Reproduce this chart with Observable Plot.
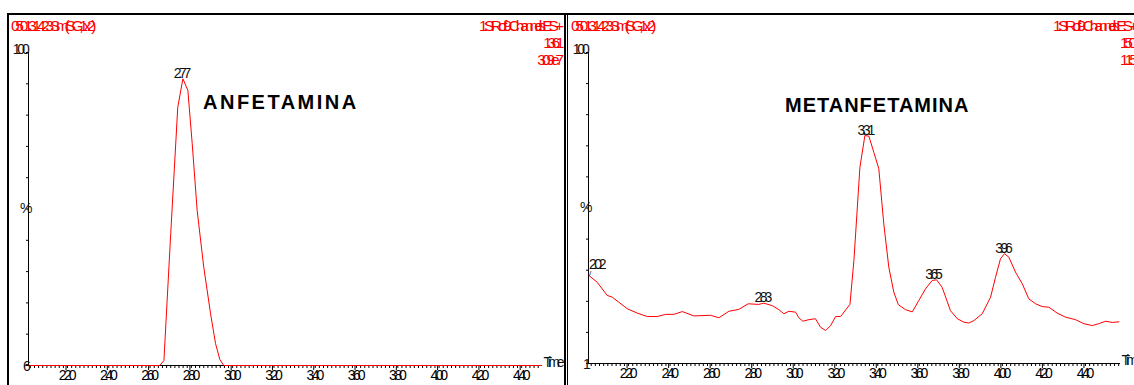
<!DOCTYPE html>
<html>
<head>
<meta charset="utf-8">
<script src="https://cdn.jsdelivr.net/npm/d3@7"></script>
<script src="https://cdn.jsdelivr.net/npm/@observablehq/plot@0.6"></script>
<style>
html, body { margin:0; padding:0; background:#fff; }
body { width:1134px; height:385px; overflow:hidden; position:relative; font-family:"Liberation Sans", Arial, sans-serif; }
.panel { position:absolute; top:0; }
.panel svg text { letter-spacing:-3.2px; }
.panel svg text.pct { letter-spacing:0; }
.panel svg text.ylab { letter-spacing:-4.2px; }
.panel svg text.tlab { letter-spacing:-3.6px; }
.hdr { position:absolute; color:#ff0000; font-size:15.5px; line-height:15.5px; letter-spacing:-4.3px; white-space:nowrap; }
.ttl { position:absolute; color:#000; font-weight:bold; font-size:20px; line-height:20px; white-space:nowrap; }
.ln { position:absolute; background:#000; }
</style>
</head>
<body>
<div id="p1" class="panel" style="left:0px;"></div>
<div id="p2" class="panel" style="left:568px;"></div>

<div class="hdr" style="left:11px; top:18px;">050131423 Sm (SG, 1x2)</div>
<div class="hdr" style="right:574px; top:18px; text-align:right; letter-spacing:-4px;">1: SIR of 9 Channels ES+</div>
<div class="hdr" style="right:574px; top:35px; text-align:right; letter-spacing:-4.4px;">136.1</div>
<div class="hdr" style="right:574px; top:52px; text-align:right; letter-spacing:-4.1px;">3.09e7</div>

<div class="hdr" style="left:571px; top:18px;">050131423 Sm (SG, 1x2)</div>
<div class="hdr" style="left:1053px; top:18px; letter-spacing:-4px;">1: SIR of 9 Channels ES+</div>
<div class="hdr" style="left:1120px; top:35px; letter-spacing:-4.4px;">150.1</div>
<div class="hdr" style="left:1120px; top:52px; letter-spacing:-4.1px;">1.15e7</div>

<div class="ttl" style="left:203px; top:92px; letter-spacing:2.5px;">ANFETAMINA</div>
<div class="ttl" style="left:785px; top:95px; letter-spacing:1px;">METANFETAMINA</div>

<div class="ln" style="left:7px; top:13px; width:1127px; height:2px;"></div>
<div class="ln" style="left:7px; top:13px; width:2px; height:372px;"></div>
<div class="ln" style="left:564px; top:13px; width:2px; height:372px;"></div>
<div class="ln" style="left:567px; top:13px; width:1px; height:372px;"></div>

<script>
// ---- data ----
const xTickValues = [2.2, 2.4, 2.6, 2.8, 3.0, 3.2, 3.4, 3.6, 3.8, 4.0, 4.2, 4.4];
const xTickLabels = ["2.20", "2.40", "2.60", "2.80", "3.00", "3.20", "3.40", "3.60", "3.80", "4.00", "4.20", "4.40"];

// Anfetamina (m/z 136.1)
const anfTime  = [2.011, 2.647, 2.667, 2.700, 2.734, 2.759, 2.783, 2.804, 2.828, 2.860, 2.893, 2.917, 2.938, 2.957, 4.496];
const anfValue = [0,     0,     1.6,   42.2,  82.5,  91.6,  87.9,  70.9,  49.5,  31.4,  16.5,  7.0,   1.9,   0,     0];
const anfPeakTime   = [2.759];
const anfPeakValue  = [91.6];
const anfPeakLabels = ["2.77"];
const anfYLabels = ["100", "6"];

// Metanfetamina (m/z 150.1)
const metTime = [2.009, 2.049, 2.097, 2.122, 2.153, 2.194, 2.242, 2.290, 2.338, 2.378, 2.418, 2.459, 2.514, 2.595, 2.635, 2.683,
  2.731, 2.776, 2.827, 2.851, 2.892, 2.924, 2.948, 2.972, 3.004, 3.020, 3.039, 3.068, 3.100, 3.124, 3.149, 3.173,
  3.197, 3.221, 3.266, 3.285, 3.314, 3.338, 3.357, 3.381, 3.405, 3.429, 3.453, 3.477, 3.499, 3.534, 3.566, 3.598,
  3.630, 3.662, 3.683, 3.710, 3.750, 3.783, 3.814, 3.838, 3.863, 3.903, 3.943, 3.967, 3.991, 4.010, 4.031, 4.063,
  4.096, 4.127, 4.160, 4.192, 4.224, 4.264, 4.304, 4.352, 4.392, 4.433, 4.464, 4.497, 4.529, 4.561];
const metValue = [28.3, 26.1, 21.9, 21.3, 19.7, 17.6, 16.2, 15.1, 15.1, 15.8, 15.8, 16.7, 15.3, 15.5, 14.7, 16.8,
  17.4, 19.2, 19.0, 19.4, 18.6, 17.3, 16.0, 16.8, 16.5, 14.7, 13.6, 14.1, 14.4, 11.7, 10.6, 12.2,
  15.1, 15.1, 19.0, 33.1, 63.1, 73.3, 73.1, 67.9, 62.6, 44.9, 31.0, 23.0, 18.9, 17.3, 16.6, 20.3,
  24.0, 26.7, 26.9, 24.5, 17.0, 14.4, 13.3, 13.0, 13.8, 16.0, 21.3, 27.7, 33.7, 35.3, 34.2, 29.4,
  25.6, 20.8, 19.2, 18.3, 18.1, 16.2, 14.9, 14.1, 12.8, 12.2, 12.8, 13.6, 13.2, 13.4];
const metPeakTime   = [2.009, 2.851, 3.347, 3.673, 4.010];
const metPeakValue  = [28.3, 19.4, 73.3, 26.9, 35.3];
const metPeakLabels = ["2.02", "2.83", "3.31", "3.65", "3.96"];
const metYLabels = ["100", "1"];

const timeLabel = "Time";
const yUnitLabel = "%";

// ---- chart ----
function chromatogram(o) {
  const data = o.time.map((t, i) => ({t, v: o.value[i]}));
  const peaks = o.peakTime.map((t, i) => ({t, v: o.peakValue[i], label: o.peakLabels[i]}));
  const [x0, x1] = o.xDomain;
  const minor = d3.range(Math.ceil(x0 * 50), Math.floor(x1 * 50) + 1).map(k => k / 50);
  const yl = [{v: 100, label: o.yLabels[0]}, {v: 0, label: o.yLabels[1]}];
  const edge = p => p.t <= x0 + 0.05;
  return Plot.plot({
    width: o.width, height: 385,
    marginTop: 52, marginBottom: o.marginBottom, marginLeft: o.marginLeft, marginRight: o.marginRight,
    x: {domain: o.xDomain, label: null},
    y: {domain: [0, 100], label: null},
    style: {background: "transparent", overflow: "visible", fontFamily: "'Liberation Sans', Arial, sans-serif", fontSize: "14px", color: "#000"},
    marks: [
      Plot.axisY({ticks: d3.range(0, 101, 10), tickSize: 2, tickFormat: () => "", stroke: "#000"}),
      Plot.frame({anchor: "left", stroke: "#000"}),
      Plot.axisX({ticks: minor, tickSize: 3, tickFormat: () => "", stroke: "#000"}),
      Plot.axisX({ticks: xTickValues, tickSize: 5, tickPadding: 0, dx: -1.5, fill: "#000", stroke: "#000",
        tickFormat: d => xTickLabels[xTickValues.indexOf(d)]}),
      Plot.frame({anchor: "bottom", stroke: "#000"}),
      Plot.line(data, {x: "t", y: "v", stroke: "#ff0000", strokeWidth: 1}),
      Plot.text(peaks.filter(p => !edge(p)), {x: "t", y: "v", text: "label", lineAnchor: "bottom", dy: -1, dx: -2, fill: "#111"}),
      Plot.text(peaks.filter(edge), {x: "t", y: "v", text: "label", textAnchor: "start", lineAnchor: "bottom", dy: -6, fill: "#111"}),
      Plot.text(peaks.filter(edge), {x: "t", y: "v", text: () => "/", textAnchor: "start", lineAnchor: "bottom", dy: 1, fill: "#111", fontSize: 8}),
      Plot.text(yl.slice(0, 1), {x: () => x0, y: "v", text: "label", textAnchor: "end", dx: -2, dy: -3, fill: "#111", className: "ylab"}),
      Plot.text(yl.slice(1), {x: () => x0, y: "v", text: "label", textAnchor: "end", dx: -1, dy: 1, fill: "#111"}),
      Plot.text([yUnitLabel], {frameAnchor: "left", text: d => d, textAnchor: "middle", dx: -4, className: "pct", fill: "#111"}),
      Plot.text([timeLabel], {frameAnchor: "bottom-right", text: d => d, textAnchor: "start", dx: 2, dy: 1, fill: "#111", className: "tlab"})
    ]
  });
}

document.getElementById("p1").appendChild(chromatogram({
  time: anfTime, value: anfValue, peakTime: anfPeakTime, peakValue: anfPeakValue, peakLabels: anfPeakLabels, yLabels: anfYLabels,
  xDomain: [2.011, 4.496], width: 564, marginLeft: 28, marginRight: 23, marginBottom: 20
}));
document.getElementById("p2").appendChild(chromatogram({
  time: metTime, value: metValue, peakTime: metPeakTime, peakValue: metPeakValue, peakLabels: metPeakLabels, yLabels: metYLabels,
  xDomain: [2.007, 4.564], width: 566, marginLeft: 20, marginRight: 15, marginBottom: 22
}));
</script>
</body>
</html>
